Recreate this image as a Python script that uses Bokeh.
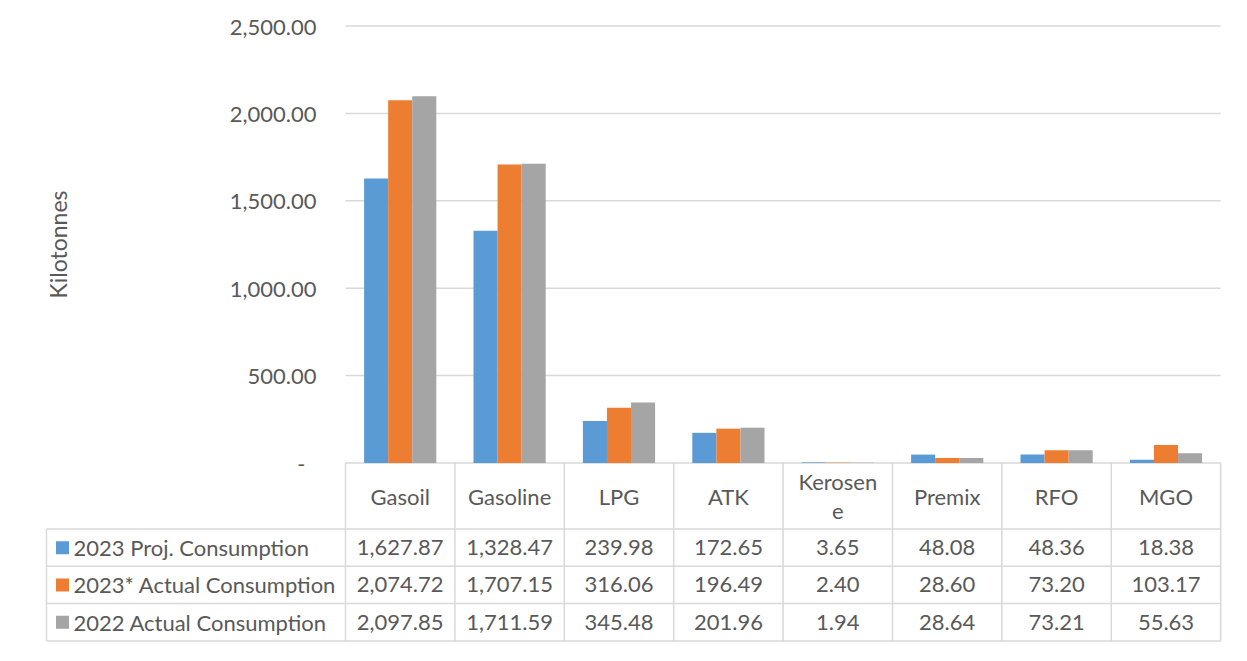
import numpy as np
from bokeh.plotting import figure
from bokeh.models import Range1d, FixedTicker, NumeralTickFormatter
from bokeh.core.properties import value
from bokeh.embed import file_html
from bokeh.resources import INLINE

# ---------------- data ----------------
categories = ["Gasoil", "Gasoline", "LPG", "ATK", "Kerosene", "Premix", "RFO", "MGO"]
header_labels = ["Gasoil", "Gasoline", "LPG", "ATK", "Kerosen\ne", "Premix", "RFO", "MGO"]
series_names = ["2023 Proj. Consumption", "2023* Actual Consumption", "2022 Actual Consumption"]
proj_2023 = [1627.87, 1328.47, 239.98, 172.65, 3.65, 48.08, 48.36, 18.38]
actual_2023 = [2074.72, 1707.15, 316.06, 196.49, 2.40, 28.60, 73.20, 103.17]
actual_2022 = [2097.85, 1711.59, 345.48, 201.96, 1.94, 28.64, 73.21, 55.63]
y_ticks = [0, 500, 1000, 1500, 2000, 2500]
y_label = "Kilotonnes"

colors = ["#5B9BD5", "#ED7D31", "#A5A5A5"]
TXT = "#595959"
LINE = "#d9d9d9"
FONT = value("Lato")
FS = "22px"

series = [proj_2023, actual_2023, actual_2022]
n_cat = len(categories)
idx = np.arange(n_cat)
edges = np.arange(n_cat + 1)

# ---------------- layout geometry (pixels -> data units) ----------------
W, H = 1231, 645
X_PX = 109.4            # pixels per category
X0_PX = 345.0           # pixel position of first category edge
Y_PX = 437.0 / 2500.0   # pixels per kilotonne
Y0_PX = 462.5           # pixel position of zero
FRAME_L, FRAME_R, FRAME_T, FRAME_B = 40, 1224, 18, 644

def xd(px):
    return (px - X0_PX) / X_PX

def yd(px):
    return (Y0_PX - px) / Y_PX

header_bottom = yd(528.5)
row_h = 37.3 / Y_PX
row_lines = [header_bottom - k * row_h for k in range(len(series) + 1)]
row_centers = [(row_lines[k] + row_lines[k + 1]) / 2 for k in range(len(series))]
left_x = xd(46)

p = figure(width=W, height=H,
           x_range=Range1d(xd(FRAME_L), xd(FRAME_R)),
           y_range=Range1d(yd(FRAME_B), yd(FRAME_T)),
           output_backend="svg", toolbar_location=None,
           x_axis_location=None, y_axis_location="left",
           min_border_left=FRAME_L, min_border_right=W - FRAME_R,
           min_border_top=FRAME_T, min_border_bottom=H - FRAME_B)
p.outline_line_color = None
p.background_fill_color = "white"
p.border_fill_color = "white"
p.xgrid.visible = False
p.ygrid.visible = False

# horizontal gridlines at the tick values
p.segment(x0=[0] * len(y_ticks), y0=y_ticks, x1=[n_cat] * len(y_ticks), y1=y_ticks,
          line_color=LINE, line_width=1.5)

# bars
offsets = [-0.22, 0.0, 0.22]
for s, off, c in zip(series, offsets, colors):
    p.vbar(x=idx + 0.5 + off, top=s, bottom=0, width=0.22,
           fill_color=c, line_color=None)

# y axis (fixed at the first category edge)
ax = p.yaxis[0]
ax.fixed_location = 0
ax.ticker = FixedTicker(ticks=y_ticks)
ax.formatter = NumeralTickFormatter(format="0,0.00")
ax.major_label_overrides = {0: "-\u2002"}
ax.bounds = (0, 2500)
ax.axis_line_color = None
ax.major_tick_line_color = None
ax.minor_tick_line_color = None
ax.major_tick_out = 0
ax.major_tick_in = 0
ax.major_label_standoff = 29
ax.major_label_text_font = "Lato"
ax.major_label_text_font_size = FS
ax.major_label_text_color = TXT

# y axis title
p.text(x=[xd(57)], y=[1250], text=[y_label], angle=np.pi / 2,
       text_align="center", text_baseline="middle", text_font=FONT,
       text_font_size="23px", text_color=TXT)

# ---------------- data table ----------------
# header row
p.text(x=idx + 0.5, y=[(0 + header_bottom) / 2] * n_cat, text=header_labels,
       text_align="center", text_baseline="middle", text_font=FONT,
       text_font_size=FS, text_color=TXT, text_line_height=1.05)

# table lines
p.segment(x0=[left_x] * len(row_lines), y0=row_lines,
          x1=[n_cat] * len(row_lines), y1=row_lines, line_color=LINE, line_width=1.5)
p.segment(x0=edges, y0=[0] * len(edges), x1=edges, y1=[row_lines[-1]] * len(edges),
          line_color=LINE, line_width=1.5)
p.segment(x0=[left_x], y0=[row_lines[0]], x1=[left_x], y1=[row_lines[-1]],
          line_color=LINE, line_width=1.5)

for r, (s, name, c) in enumerate(zip(series, series_names, colors)):
    yc = row_centers[r]
    p.scatter(x=[xd(62)], y=[yc], marker="square", size=13,
              fill_color=c, line_color=None)
    p.text(x=[xd(73)], y=[yc], text=[name], text_align="left",
           text_baseline="middle", text_font=FONT, text_font_size=FS, text_color=TXT)
    p.text(x=idx + 0.5, y=[yc] * n_cat, text=[f"{v:,.2f}" for v in s],
           text_align="center", text_baseline="middle", text_font=FONT,
           text_font_size=FS, text_color=TXT)

open("out.html", "w").write(file_html(p, INLINE))
